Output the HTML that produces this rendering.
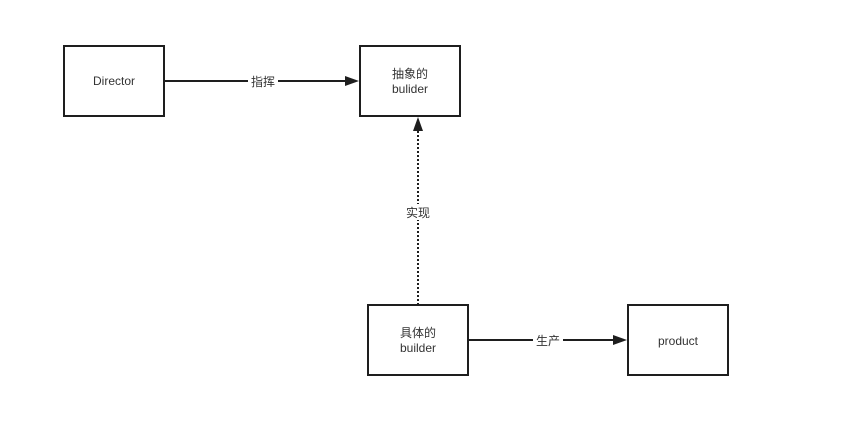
<!DOCTYPE html>
<html><head><meta charset="utf-8"><style>
body{margin:0;background:#fff;}
svg text{font-family:"Liberation Sans","Noto Sans CJK SC",sans-serif;font-size:12px;fill:#333;}
</style></head><body>
<svg width="854" height="425" xmlns="http://www.w3.org/2000/svg">
<g fill="#fff" stroke="#1e1e1e" stroke-width="2">
<rect x="64" y="46" width="100" height="70"/>
<rect x="360" y="46" width="100" height="70"/>
<rect x="368" y="305" width="100" height="70"/>
<rect x="628" y="305" width="100" height="70"/>
</g>
<g stroke="#1e1e1e" stroke-width="2">
<line x1="164" y1="81" x2="348" y2="81"/>
<line x1="468" y1="340" x2="616" y2="340"/>
<line x1="418" y1="305" x2="418" y2="130" stroke-dasharray="2 2"/>
</g>
<g fill="#1e1e1e">
<polygon points="359,81 345,76 345,86"/>
<polygon points="627,340 613,335 613,345"/>
<polygon points="418,117 413,131 423,131"/>
</g>
<rect x="248" y="73" width="30" height="16" fill="#fff"/>
<rect x="533" y="332" width="30" height="16" fill="#fff"/>
<rect x="403" y="204" width="30" height="16" fill="#fff"/>
<g text-anchor="middle">
<text x="114" y="85">Director</text>
<text x="410" y="78">抽象的</text>
<text x="410" y="93">bulider</text>
<text x="418" y="337">具体的</text>
<text x="418" y="352">builder</text>
<text x="678" y="345">product</text>
<text x="263" y="86">指挥</text>
<text x="548" y="345">生产</text>
<text x="418" y="217">实现</text>
</g>
</svg>
</body></html>
